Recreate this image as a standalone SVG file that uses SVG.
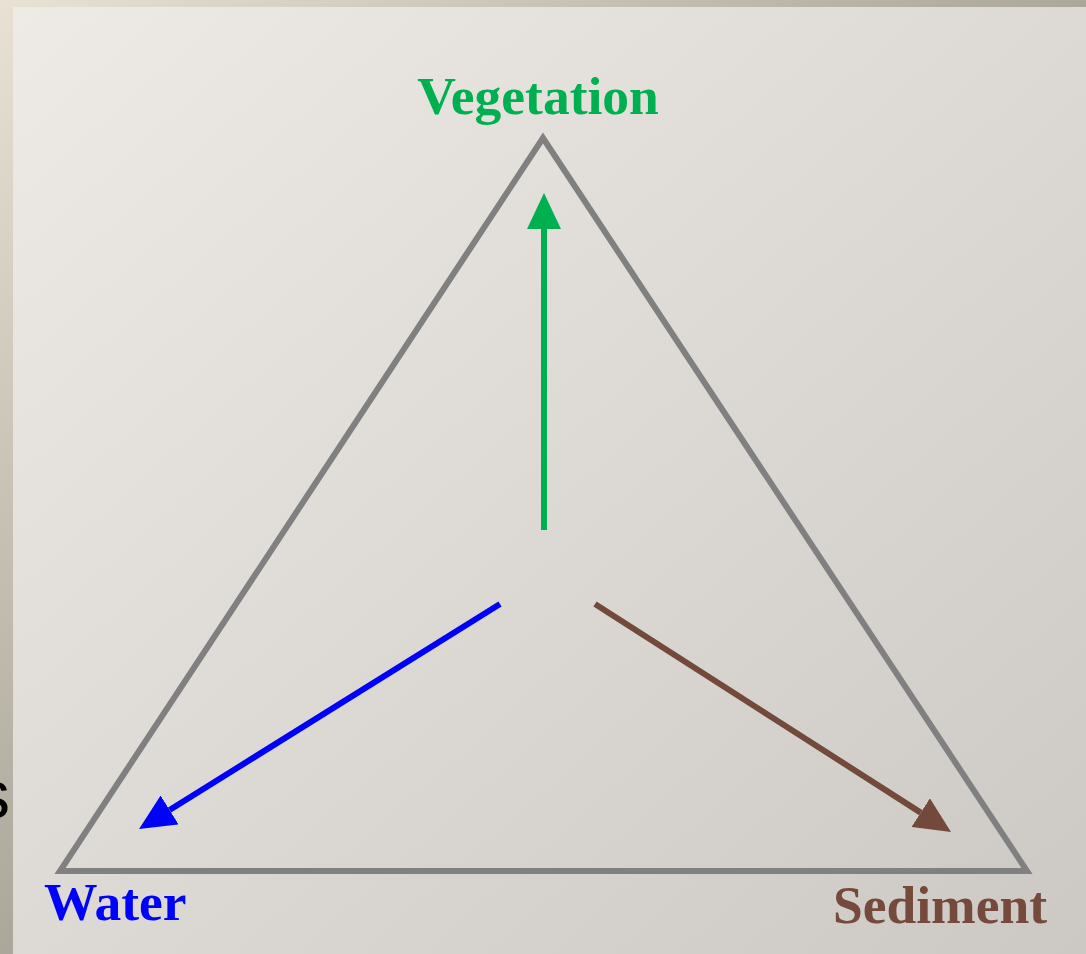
<svg xmlns="http://www.w3.org/2000/svg" width="1086" height="954" viewBox="0 0 1086 954">
  <defs>
    <linearGradient id="outer" x1="0" y1="0" x2="1" y2="1">
      <stop offset="0" stop-color="#e8e1d4"/>
      <stop offset="0.5" stop-color="#aca79b"/>
      <stop offset="1" stop-color="#918c82"/>
    </linearGradient>
    <linearGradient id="panel" x1="0" y1="0" x2="1" y2="1">
      <stop offset="0" stop-color="#eeebe6"/>
      <stop offset="1" stop-color="#ccc9c4"/>
    </linearGradient>
    <marker id="hGreen" markerUnits="userSpaceOnUse" markerWidth="36" markerHeight="34" refX="0" refY="17" orient="auto" viewBox="0 0 36 34">
      <path d="M0,0 L36,17 L0,34 z" fill="#00b050"/>
    </marker>
    <marker id="hBlue" markerUnits="userSpaceOnUse" markerWidth="36" markerHeight="34" refX="0" refY="17" orient="auto" viewBox="0 0 36 34">
      <path d="M0,0 L36,17 L0,34 z" fill="#0000ff"/>
    </marker>
    <marker id="hBrown" markerUnits="userSpaceOnUse" markerWidth="36" markerHeight="34" refX="0" refY="17" orient="auto" viewBox="0 0 36 34">
      <path d="M0,0 L36,17 L0,34 z" fill="#72493b"/>
    </marker>
  </defs>
  <style>
    .lbl { font-family: "Liberation Serif", "Times New Roman", serif; font-weight: bold; font-size: 53.5px; }
    .conn { stroke-width: 6; fill: none; }
  </style>
  <rect x="0" y="0" width="1086" height="954" fill="url(#outer)"/>
  <text x="-24" y="818" font-family="Liberation Sans, Arial, sans-serif" font-size="68" fill="#000">s</text>
  <rect x="13" y="7" width="1073" height="947" fill="url(#panel)"/>

  <g id="triangle">
    <polygon points="543,138 60,871 1027,871" fill="none" stroke="#808080" stroke-width="6" stroke-linejoin="miter"/>
  </g>

  <g id="connectors">
    <line class="conn" x1="544" y1="530" x2="544" y2="229" stroke="#00b050" marker-end="url(#hGreen)"/>
    <line class="conn" x1="500" y1="604" x2="169.6" y2="810" stroke="#0000ff" marker-end="url(#hBlue)"/>
    <line class="conn" x1="595" y1="604" x2="920.7" y2="812.6" stroke="#72493b" marker-end="url(#hBrown)"/>
  </g>

  <g id="vegetation">
    <text class="lbl" x="538" y="114" text-anchor="middle" fill="#00b050">Vegetation</text>
  </g>
  <g id="water">
    <text class="lbl" x="44" y="920" fill="#0000ff">Water</text>
  </g>
  <g id="sediment">
    <text class="lbl" x="833" y="923" fill="#754a3c">Sediment</text>
  </g>
</svg>
